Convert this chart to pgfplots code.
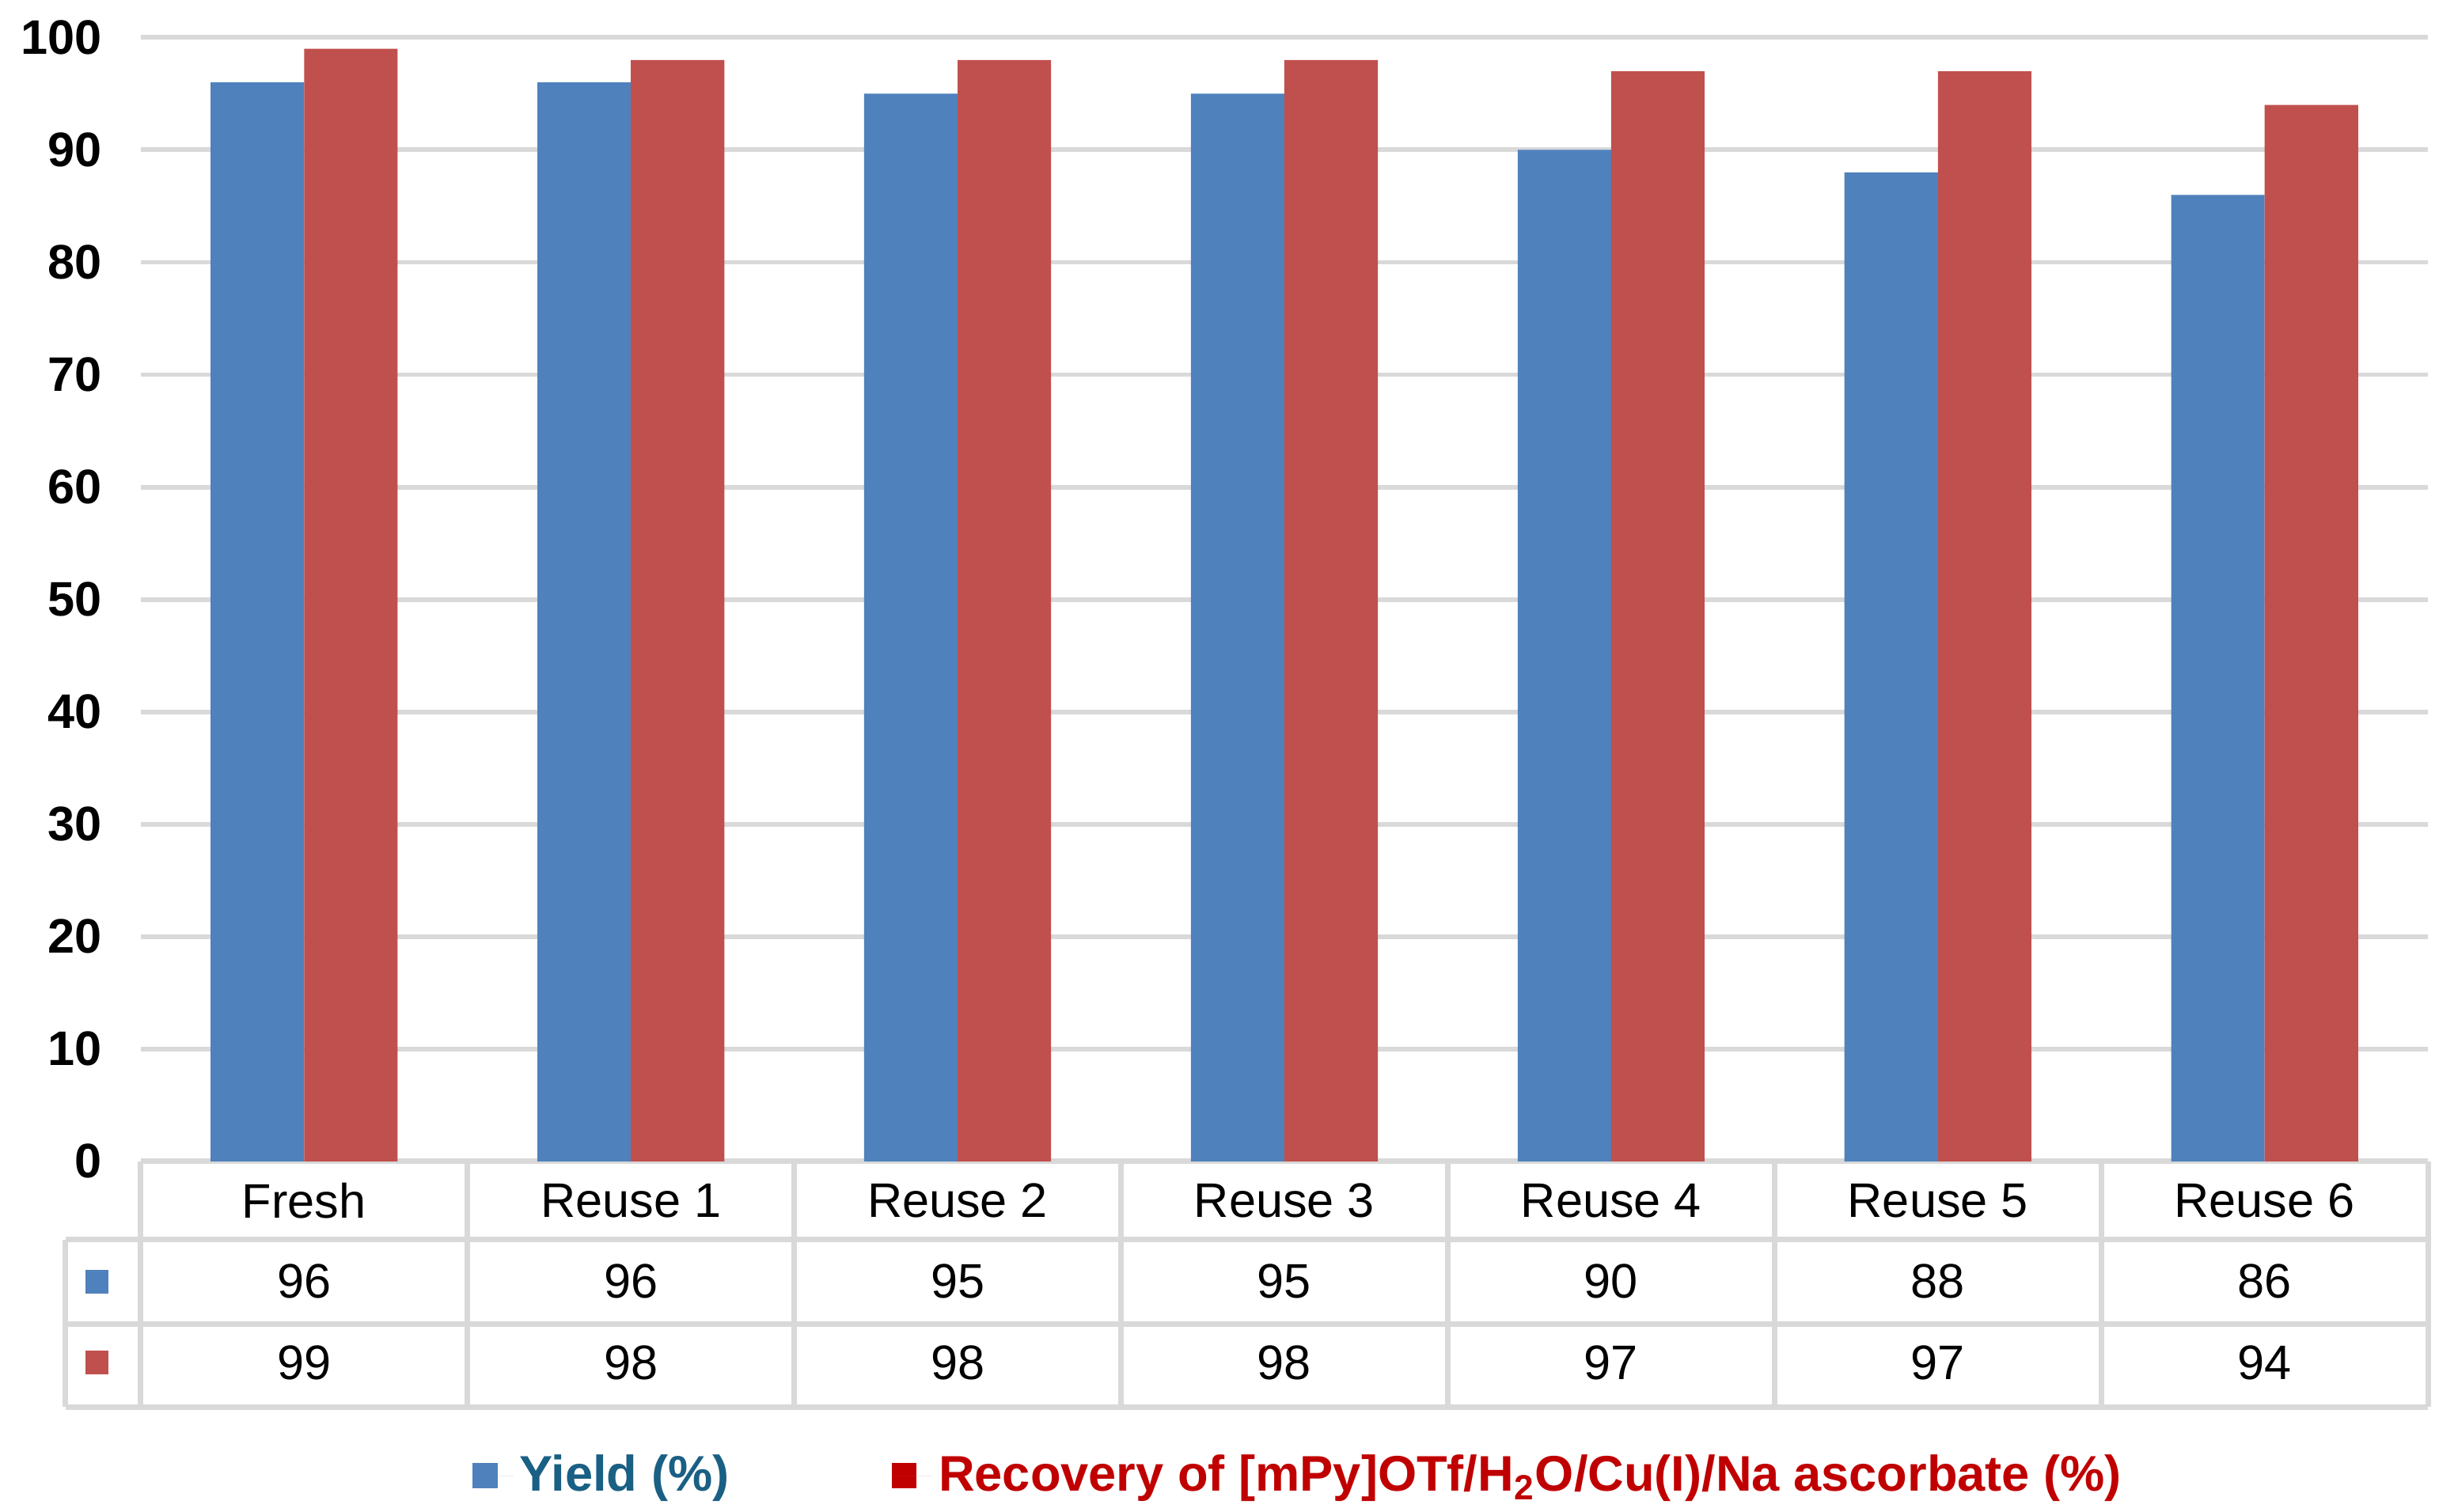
\documentclass[border=0pt]{standalone}
\usepackage{fontspec}
\setmainfont{Liberation Sans}
\usepackage{pgfplots}
\pgfplotsset{compat=1.18}
\definecolor{barblue}{HTML}{4F81BD}
\definecolor{barred}{HTML}{C0504D}
\definecolor{gridgray}{HTML}{D9D9D9}
\definecolor{legblue}{HTML}{1A5F84}
\definecolor{legred}{HTML}{C00000}
\newcommand{\fs}{\fontsize{15.5}{18}\selectfont}
\begin{document}
\begin{tikzpicture}
\useasboundingbox (-45pt,-112pt) rectangle (735pt,371.5pt);
\begin{axis}[
  at={(0,0)}, anchor=south west,
  scale only axis, width=731.5pt, height=359.5pt,
  xmin=-0.5, xmax=6.5, ymin=0, ymax=100,
  xtick=\empty, ytick={0,10,...,100},
  ymajorgrids, grid style={gridgray, line width=1.5pt},
  axis line style={draw=none}, major tick length=0pt,
  yticklabel style={font=\bfseries\fs, xshift=-9pt},
  /pgf/number format/assume math mode=true,
  clip=false,
  legend columns=2,
  legend style={at={(0.507,-0.2796)}, anchor=center, draw=none, fill=none,
    font=\bfseries\fontsize{16}{19}\selectfont,
    /tikz/every even column/.append style={column sep=50pt}},
]
% table lines
\draw[gridgray, line width=1.8pt] (axis cs:-0.5,0) -- (axis cs:6.5,0);
\draw[gridgray, line width=1.8pt] (axis cs:-0.73,-6.95) -- (axis cs:6.5,-6.95);
\draw[gridgray, line width=1.8pt] (axis cs:-0.73,-14.46) -- (axis cs:6.5,-14.46);
\draw[gridgray, line width=1.8pt] (axis cs:-0.73,-21.84) -- (axis cs:6.5,-21.84);
\draw[gridgray, line width=1.8pt] (axis cs:-0.73,-6.95) -- (axis cs:-0.73,-21.84);
\pgfplotsinvokeforeach{-0.5,0.5,1.5,2.5,3.5,4.5,5.5,6.5}{
  \draw[gridgray, line width=1.8pt] (axis cs:#1,0) -- (axis cs:#1,-21.84);
}
% bars
\addplot[ybar, bar width=0.286, bar shift=-0.143, fill=barblue, draw=none,
  legend image code/.code={\fill[barblue] (0pt,-4pt) rectangle (8pt,4pt); \path (0pt,0pt) -- (13pt,0pt);}]
  coordinates {(0,96) (1,96) (2,95) (3,95) (4,90) (5,88) (6,86)};
\addlegendentry{\textcolor{legblue}{Yield (\%)}}
\addplot[ybar, bar width=0.286, bar shift=0.143, fill=barred, draw=none,
  legend image code/.code={\fill[legred] (0pt,-4pt) rectangle (8pt,4pt); \path (0pt,0pt) -- (13pt,0pt);}]
  coordinates {(0,99) (1,98) (2,98) (3,98) (4,97) (5,97) (6,94)};
\addlegendentry{\textcolor{legred}{Recovery of [mPy]OTf/H\textsubscript{2}O/Cu(I)/Na ascorbate (\%)}}
% table text
\addplot[draw=none, mark=none, forget plot, nodes near coords, point meta=explicit symbolic,
  every node near coord/.style={anchor=center, font=\fs, text=black}]
  coordinates {(0,-3.48)[Fresh] (1,-3.48)[Reuse 1] (2,-3.48)[Reuse 2] (3,-3.48)[Reuse 3] (4,-3.48)[Reuse 4] (5,-3.48)[Reuse 5] (6,-3.48)[Reuse 6]};
\addplot[draw=none, mark=none, forget plot, nodes near coords, point meta=explicit symbolic,
  every node near coord/.style={anchor=center, font=\fs, text=black}]
  coordinates {(0,-10.7)[96] (1,-10.7)[96] (2,-10.7)[95] (3,-10.7)[95] (4,-10.7)[90] (5,-10.7)[88] (6,-10.7)[86]};
\addplot[draw=none, mark=none, forget plot, nodes near coords, point meta=explicit symbolic,
  every node near coord/.style={anchor=center, font=\fs, text=black}]
  coordinates {(0,-17.9)[99] (1,-17.9)[98] (2,-17.9)[98] (3,-17.9)[98] (4,-17.9)[97] (5,-17.9)[97] (6,-17.9)[94]};
% table keys
\addplot[only marks, forget plot, color=barblue, mark=square*, mark size=3.6pt, mark options={fill=barblue, draw=barblue, line width=0pt}]
  coordinates {(-0.634,-10.7)};
\addplot[only marks, forget plot, color=barred, mark=square*, mark size=3.6pt, mark options={fill=barred, draw=barred, line width=0pt}]
  coordinates {(-0.634,-17.9)};
\end{axis}
\end{tikzpicture}
\end{document}
